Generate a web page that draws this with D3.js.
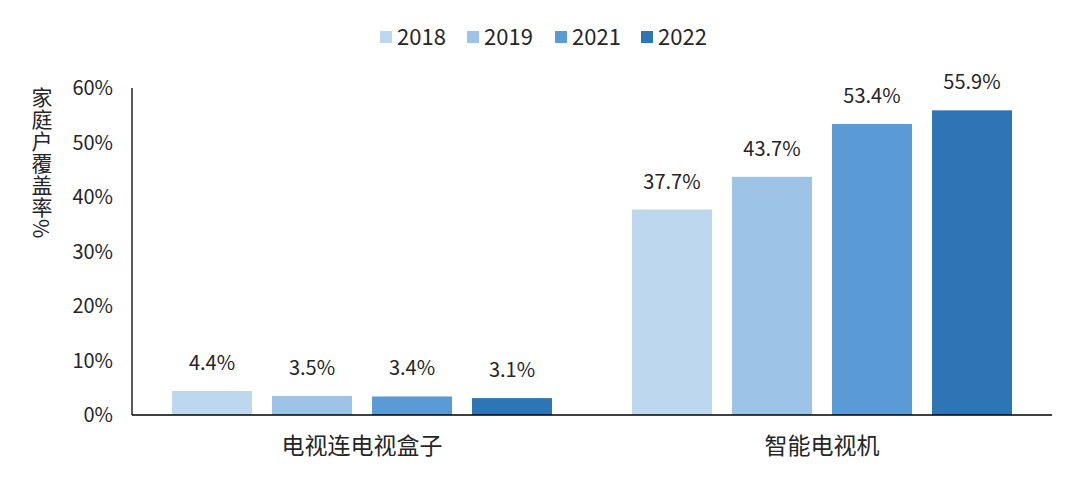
<!DOCTYPE html>
<html>
<head>
<meta charset="utf-8">
<script src="https://cdn.jsdelivr.net/npm/d3@7"></script>
<style>
  html, body { margin: 0; padding: 0; background: #fff; }
  svg text { font-family: "Noto Sans CJK SC", "Noto Sans", sans-serif; fill: #262626; }
</style>
</head>
<body>
<div id="chart"></div>
<script>
const categories = ['电视连电视盒子', '智能电视机'];
const years = ['2018', '2019', '2021', '2022'];
const colors = ['#BDD7EE', '#9DC3E6', '#5B9BD5', '#2E75B6'];
const values2018 = [4.4, 37.7];
const values2019 = [3.5, 43.7];
const values2021 = [3.4, 53.4];
const values2022 = [3.1, 55.9];
const yTicks = [0, 10, 20, 30, 40, 50, 60];
const yTitle = '家庭户覆盖率%';

const series = [values2018, values2019, values2021, values2022];
const data = categories.map((c, i) => ({
  cat: c,
  vals: years.map((y, j) => ({ year: y, color: colors[j], v: series[j][i] }))
}));

const W = 1080, H = 480;
const margin = { top: 88, right: 28, bottom: 65, left: 132 };
const width = W - margin.left - margin.right;
const height = H - margin.top - margin.bottom;

const svg = d3.select('#chart').append('svg').attr('width', W).attr('height', H);
const g = svg.append('g').attr('transform', `translate(${margin.left},${margin.top})`);

const x0 = d3.scaleBand().domain(categories).range([0, width]).padding(0);
const x1 = d3.scaleBand().domain(years).range([0, x0.bandwidth()]).paddingInner(0.2).paddingOuter(0.4);
const y = d3.scaleLinear().domain([0, 60]).range([height, 0]);

// y tick labels (no axis ticks drawn)
g.selectAll('.ytick')
  .data(yTicks)
  .join('text')
  .attr('class', 'ytick')
  .attr('x', -19)
  .attr('y', d => y(d))
  .attr('dy', '0.35em')
  .attr('text-anchor', 'end')
  .style('font-size', '20px')
  .text(d => d + '%');

// groups + bars
const $grp = g.selectAll('.grp')
  .data(data)
  .join('g')
  .attr('class', 'grp')
  .attr('transform', d => `translate(${x0(d.cat)},0)`);

$grp.selectAll('rect')
  .data(d => d.vals)
  .join('rect')
  .attr('x', d => x1(d.year))
  .attr('y', d => y(d.v))
  .attr('width', x1.bandwidth())
  .attr('height', d => height - y(d.v))
  .attr('fill', d => d.color);

$grp.selectAll('.val')
  .data(d => d.vals)
  .join('text')
  .attr('class', 'val')
  .attr('x', d => x1(d.year) + x1.bandwidth() / 2)
  .attr('y', d => y(d.v) - 21)
  .attr('text-anchor', 'middle')
  .style('font-size', '20px')
  .text(d => d.v.toFixed(1) + '%');

// category labels
g.selectAll('.cat')
  .data(categories)
  .join('text')
  .attr('class', 'cat')
  .attr('x', d => x0(d) + x0.bandwidth() / 2)
  .attr('y', height + 39)
  .attr('text-anchor', 'middle')
  .style('font-size', '23px')
  .text(d => d);

// axis lines
g.append('line')
  .attr('x1', 0).attr('x2', 0).attr('y1', 0).attr('y2', height)
  .attr('stroke', '#000').attr('stroke-width', 1.3);
g.append('line')
  .attr('x1', 0).attr('x2', width).attr('y1', height).attr('y2', height)
  .attr('stroke', '#000').attr('stroke-width', 1.3);

// y title, vertical writing mode (CJK upright, % sideways)
svg.append('text')
  .attr('x', 42)
  .attr('y', 87)
  .style('writing-mode', 'vertical-rl')
  .style('font-feature-settings', '"vpal" 0, "palt" 0')
  .style('letter-spacing', '1px')
  .style('font-size', '21px')
  .text(yTitle);

// legend
const legendX = [380, 467, 555, 641];
const $leg = svg.selectAll('.leg')
  .data(years)
  .join('g')
  .attr('class', 'leg')
  .attr('transform', (d, i) => `translate(${legendX[i]},37)`);
$leg.append('rect')
  .attr('x', 0).attr('y', -6).attr('width', 12).attr('height', 12)
  .attr('fill', (d, i) => colors[i]);
$leg.append('text')
  .attr('x', 17)
  .attr('dy', '0.35em')
  .style('font-size', '22px')
  .text(d => d);
</script>
</body>
</html>
